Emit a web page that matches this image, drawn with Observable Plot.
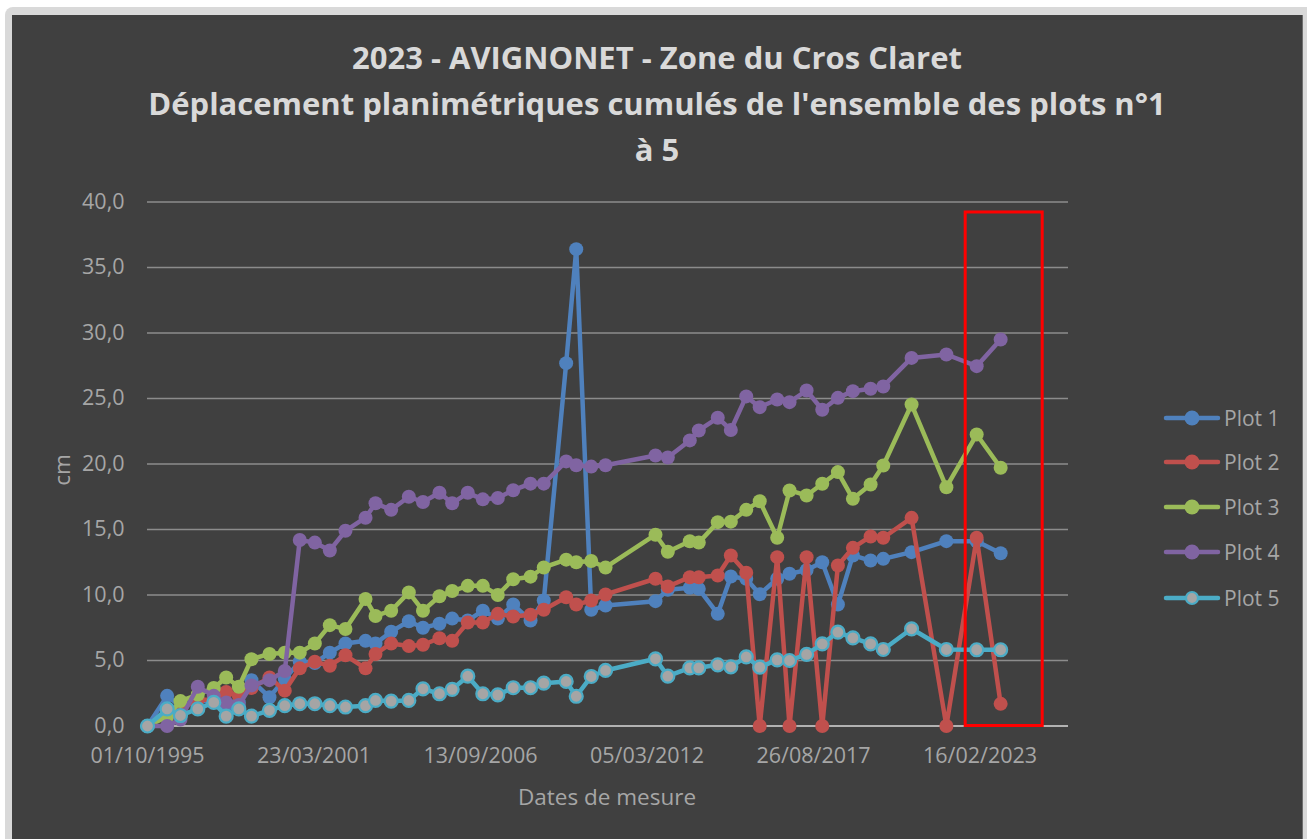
<!DOCTYPE html>
<html>
<head>
<meta charset="utf-8">
<script src="https://cdn.jsdelivr.net/npm/d3@7"></script>
<script src="https://cdn.jsdelivr.net/npm/@observablehq/plot@0.6"></script>
<style>
  html, body { margin: 0; padding: 0; background: #ffffff; width: 1307px; height: 839px; overflow: hidden; font-family: "Open Sans", sans-serif; }
  #frame { position: absolute; left: 5px; top: 7px; width: 1310px; height: 900px; background: #d9d9d9; border-radius: 8px; }
  #panel { position: absolute; left: 12px; top: 15px; width: 1290px; height: 900px; background: #404040; border-right: 1px solid #6e6e6e; }
  .title { position: absolute; left: 12px; width: 1290px; text-align: center; color: #d9d9d9; font-weight: bold; font-size: 31px; line-height: 46px; }
  #chart { position: absolute; left: 0; top: 0; }
  .axtitle { position: absolute; color: #a6a6a6; font-size: 22.5px; line-height: 28px; }
  .leg { position: absolute; left: 1160px; height: 30px; display: flex; align-items: center; color: #a6a6a6; font-size: 21px; }
</style>
</head>
<body>
<div id="frame"></div>
<div id="panel"></div>
<div class="title" style="top:34px">2023 - AVIGNONET - Zone du Cros Claret<br>Déplacement planimétriques cumulés de l'ensemble des plots n°1<br>à 5</div>
<div id="chart"></div>
<div class="axtitle" style="left:42px; top:456px; width:40px; text-align:center; transform: rotate(-90deg); transform-origin: center;">cm</div>
<div class="axtitle" style="left:407px; top:783px; width:400px; text-align:center;">Dates de mesure</div>
<div id="legend"></div>
<script>
// ---- data ----
const dates = ["1995-10-01","1996-05-24","1996-10-31","1997-05-27","1997-12-05","1998-05-03","1998-10-02","1999-03-03","1999-10-05","2000-04-06",
  "2000-10-03","2001-04-02","2001-09-29","2002-04-05","2002-12-02","2003-04-01","2003-10-06","2004-05-05","2004-10-22","2005-05-08",
  "2005-10-08","2006-04-13","2006-10-11","2007-04-09","2007-10-11","2008-05-06","2008-10-12","2009-07-08","2009-11-06","2010-05-05",
  "2010-10-24","2012-06-15","2012-11-10","2013-08-01","2013-11-17","2014-07-03","2014-12-07","2015-06-10","2015-11-19","2016-06-16",
  "2016-11-11","2017-06-04","2017-12-09","2018-06-15","2018-12-12","2019-07-13","2019-12-12","2020-11-16","2022-01-08","2023-01-07","2023-10-22"];
const plot1 = [0,2.3,1.5,2.0,1.8,1.5,1.8,3.5,2.2,3.6, 4.9,4.8,5.6,6.3,6.5,6.3,7.2,8.0,7.5,7.8, 8.2,8.05,8.8,8.2,9.27,8.05,9.58,27.7,36.4,8.87,
  9.2,9.53,10.4,10.55,10.47,8.56,11.41,11.24,10.06,11.24, 11.62,11.9,12.5,9.27,13.02,12.63,12.76,13.27,14.11,14.1,13.19];
const plot2 = [0,0.8,1.3,2.0,2.0,2.6,2.3,2.9,3.7,2.7, 4.4,4.9,4.6,5.4,4.4,5.5,6.3,6.1,6.2,6.7, 6.5,7.9,7.9,8.56,8.36,8.5,8.87,9.83,9.27,9.58,
  10.04,11.24,10.65,11.36,11.36,11.49,13.02,11.7,0,12.89, 0,12.89,0,12.25,13.6,14.47,14.37,15.89,0,14.37,1.69];
const plot3 = [0,0.7,1.9,2.4,2.9,3.7,3.0,5.1,5.5,5.6, 5.6,6.3,7.7,7.4,9.7,8.4,8.8,10.2,8.8,9.9, 10.3,10.7,10.7,10.0,11.2,11.4,12.1,12.7,12.5,12.6,
  12.1,14.6,13.3,14.1,14.0,15.56,15.6,16.5,17.16,14.37, 17.98,17.6,18.49,19.38,17.34,18.44,19.89,24.54,18.23,22.25,19.71];
const plot4 = [0,0,0.5,3.0,2.3,1.8,1.6,3.1,3.5,4.2, 14.2,14.0,13.4,14.9,15.9,17.0,16.5,17.5,17.1,17.8, 17.0,17.8,17.3,17.4,18.0,18.5,18.5,20.2,19.9,19.8,
  19.9,20.65,20.5,21.8,22.56,23.53,22.6,25.16,24.34,24.92, 24.72,25.61,24.14,25.05,25.56,25.74,25.92,28.1,28.36,27.47,29.5];
const plot5 = [0,1.3,0.8,1.3,1.8,0.75,1.3,0.75,1.2,1.55, 1.7,1.7,1.55,1.45,1.55,1.95,1.9,1.95,2.84,2.46, 2.8,3.8,2.46,2.38,2.92,2.92,3.27,3.4,2.27,3.78,
  4.24,5.13,3.8,4.44,4.44,4.67,4.52,5.27,4.49,5.05, 5.0,5.46,6.27,7.16,6.73,6.27,5.84,7.42,5.84,5.82,5.82];
const seriesNames = ["Plot 1","Plot 2","Plot 3","Plot 4","Plot 5"];
const seriesColors = ["#4f81bd","#c0504d","#9bbb59","#8064a2","#4bacc6"];
const xTickLabels = ["01/10/1995","23/03/2001","13/09/2006","05/03/2012","26/08/2017","16/02/2023"];
const yTicks = [0,5,10,15,20,25,30,35,40];
const xDomain = ["1995-10-01","2026-01-14"];
const highlight = [{x1:"2022-08-28", x2:"2025-03-10", y1:0, y2:39.2}];

// ---- build ----
const parse = d3.utcParse("%Y-%m-%d");
const parseFr = d3.utcParse("%d/%m/%Y");
const allSeries = [plot1, plot2, plot3, plot4, plot5];
const rows = allSeries.map((vals, s) => vals.map((v, i) => ({date: parse(dates[i]), value: v, series: seriesNames[s]})));
const hl = highlight.map(d => ({x1: parse(d.x1), x2: parse(d.x2), y1: d.y1, y2: d.y2}));
const fmtY = d => d.toFixed(1).replace(".", ",");

const marks = [
  Plot.ruleY(yTicks.filter(d => d > 0), {stroke: "#8c8c8c", strokeWidth: 1.3}),
  Plot.ruleY([0], {stroke: "#d9d9d9", strokeWidth: 1.5}),
  Plot.axisY({ticks: yTicks, tickFormat: fmtY, tickSize: 0, tickPadding: 23, label: null, fontSize: 21.5}),
  Plot.axisX({ticks: xTickLabels.map(parseFr), tickFormat: d3.utcFormat("%d/%m/%Y"), tickSize: 0, tickPadding: 22, label: null, fontSize: 21.5})
];
rows.forEach((data, s) => {
  marks.push(Plot.line(data, {x: "date", y: "value", stroke: seriesColors[s], strokeWidth: 4.5, strokeLinejoin: "round", strokeLinecap: "round"}));
  if (s === 4) {
    marks.push(Plot.dot(data, {x: "date", y: "value", r: 6.5, fill: "#a5a5a5", stroke: seriesColors[s], strokeWidth: 2.2}));
  } else {
    marks.push(Plot.dot(data, {x: "date", y: "value", r: 7, fill: seriesColors[s], stroke: "none"}));
  }
});
marks.push(Plot.rect(hl, {x1: "x1", x2: "x2", y1: "y1", y2: "y2", fill: "none", stroke: "#ff0000", strokeWidth: 3}));

const chart = Plot.plot({
  width: 1307,
  height: 839,
  marginLeft: 147,
  marginRight: 239,
  marginTop: 201.5,
  marginBottom: 113.5,
  x: {type: "utc", domain: xDomain.map(parse)},
  y: {domain: [0, 40]},
  style: {background: "transparent", color: "#a6a6a6", fontFamily: "'Open Sans', sans-serif", fontSize: "21.5px"},
  marks
});
document.getElementById("chart").appendChild(chart);

// legend
const legend = document.getElementById("legend");
const legendY = [418, 462, 507, 552, 598];
seriesNames.forEach((name, s) => {
  const div = document.createElement("div");
  div.className = "leg";
  div.style.top = (legendY[s] - 15) + "px";
  const dot = s === 4
    ? `<circle cx="32" cy="15" r="6" fill="#a5a5a5" stroke="${seriesColors[s]}" stroke-width="2.2"/>`
    : `<circle cx="32" cy="15" r="7.5" fill="${seriesColors[s]}"/>`;
  div.innerHTML = `<svg width="64" height="30"><line x1="6" y1="15" x2="58" y2="15" stroke="${seriesColors[s]}" stroke-width="4.5" stroke-linecap="round"/>${dot}</svg><span style="margin-left:0px">${name}</span>`;
  legend.appendChild(div);
});
</script>
</body>
</html>
